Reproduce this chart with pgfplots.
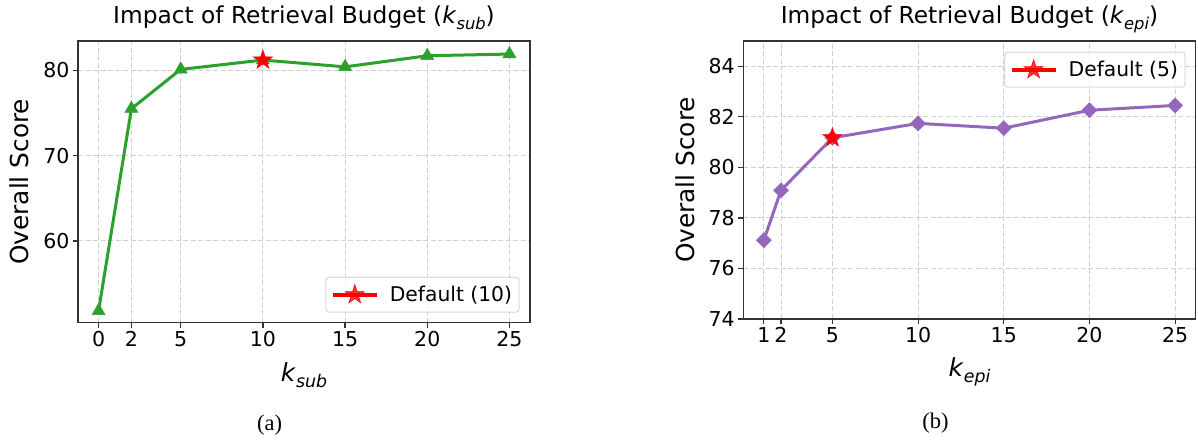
\documentclass[border=0pt]{standalone}
\usepackage{pgfplots}
\pgfplotsset{compat=1.18}
\usepackage{graphicx}
\usepackage{fontspec}
\setmainfont{DejaVu Sans}
\newfontfamily\capfont{Liberation Serif}
\definecolor{mgreen}{HTML}{2CA02C}
\definecolor{mpurple}{HTML}{9467BD}
\definecolor{framec}{HTML}{333333}
\definecolor{gridc}{HTML}{D0D0D0}
\definecolor{legc}{HTML}{D8D8D8}
\pgfdeclareplotmark{fstar}{%
 \pgfpathmoveto{\pgfpointpolar{90}{\pgfplotmarksize}}%
 \pgfpathlineto{\pgfpointpolar{126}{0.382\pgfplotmarksize}}%
 \pgfpathlineto{\pgfpointpolar{162}{\pgfplotmarksize}}%
 \pgfpathlineto{\pgfpointpolar{198}{0.382\pgfplotmarksize}}%
 \pgfpathlineto{\pgfpointpolar{234}{\pgfplotmarksize}}%
 \pgfpathlineto{\pgfpointpolar{270}{0.382\pgfplotmarksize}}%
 \pgfpathlineto{\pgfpointpolar{306}{\pgfplotmarksize}}%
 \pgfpathlineto{\pgfpointpolar{342}{0.382\pgfplotmarksize}}%
 \pgfpathlineto{\pgfpointpolar{18}{\pgfplotmarksize}}%
 \pgfpathlineto{\pgfpointpolar{54}{0.382\pgfplotmarksize}}%
 \pgfpathclose
 \pgfusepathqfillstroke}
\newcommand\kk[1]{\textit{k}\raisebox{-0.22em}{\scalebox{0.7}{\textit{#1}}}}
\pgfplotsset{mystyle/.style={
  scale only axis,
  axis line style={draw=framec, line width=1.2pt},
  tick align=outside,
  xtick pos=bottom, ytick pos=left,
  major tick length=5pt,
  every tick/.style={draw=framec, line width=1.2pt},
  grid=major,
  major grid style={draw=gridc, dash pattern=on 5pt off 2.5pt, line width=0.9pt},
  ticklabel style={font=\fontsize{20.5}{24}\selectfont},
  /pgf/number format/assume math mode=true,
  title style={font=\fontsize{23.3}{28}\selectfont, at={(axis description cs:0.5,1)}, anchor=base, yshift=11pt},
  label style={font=\fontsize{24.8}{30}\selectfont},
  legend cell align=left,
  legend image code/.code={\draw[mark repeat=2,mark phase=2,##1] plot coordinates {(0pt,0pt) (22pt,0pt) (44pt,0pt)};},
}}
\begin{document}
\begin{tikzpicture}
\path[use as bounding box] (0pt,0pt) rectangle (1198pt,441pt);
\begin{axis}[mystyle,
  at={(78pt,118.3pt)}, anchor=south west,
  width=452pt, height=281.7pt,
  xmin=-1.25, xmax=26.25, ymin=50.42, ymax=83.43,
  xtick={0,2,5,10,15,20,25}, ytick={60,70,80},
  title={Impact of Retrieval Budget (\kk{sub})},
  xlabel={\kk{sub}},
  ylabel={Overall Score},
  xlabel style={at={(axis description cs:0.5,0)}, anchor=base, yshift=-59.3pt},
  ylabel style={at={(axis description cs:-0.1093,0.5)}, anchor=base},
  legend style={at={(axis description cs:1,0)}, anchor=south east, xshift=-10.4pt, yshift=10pt,
    draw=legc, line width=1pt, rounded corners=3pt, fill=white, fill opacity=0.8, text opacity=1,
    font=\fontsize{20.3}{24}\selectfont, inner xsep=5pt, inner ysep=7pt, column sep=9pt},
]
\addplot[mgreen, line width=3pt, mark=triangle*, mark size=7.5pt,
  mark options={fill=mgreen, draw=mgreen, line width=0.5pt}, forget plot]
  coordinates {(0,51.8) (2,75.5) (5,80.1) (10,81.2) (15,80.4) (20,81.7) (25,81.9)};
\addplot[red, line width=4pt, mark=fstar, mark size=10pt,
  mark options={solid, fill=red, draw=red, line width=0.6pt}]
  coordinates {(10,81.2)};
\addlegendentry{Default (10)}
\end{axis}
\begin{axis}[mystyle,
  at={(743.3pt,122pt)}, anchor=south west,
  width=452.4pt, height=278pt,
  xmin=-0.2, xmax=26.2, ymin=74, ymax=85,
  xtick={1,2,5,10,15,20,25}, ytick={74,76,78,80,82,84},
  title={Impact of Retrieval Budget (\kk{epi})},
  xlabel={\kk{epi}},
  ylabel={Overall Score},
  xlabel style={at={(axis description cs:0.5,0)}, anchor=base, yshift=-58pt},
  ylabel style={at={(axis description cs:-0.1068,0.5)}, anchor=base},
  legend style={at={(axis description cs:1,1)}, anchor=north east, xshift=-10.2pt, yshift=-10.7pt,
    draw=legc, line width=1pt, rounded corners=3pt, fill=white, fill opacity=0.8, text opacity=1,
    font=\fontsize{20.3}{24}\selectfont, inner xsep=5pt, inner ysep=7pt, column sep=9pt},
]
\addplot[mpurple, line width=3pt, mark=square*, mark size=5.3pt,
  mark options={rotate=45, fill=mpurple, draw=mpurple, line width=0.5pt}, forget plot]
  coordinates {(1,77.12) (2,79.09) (5,81.17) (10,81.74) (15,81.55) (20,82.26) (25,82.45)};
\addplot[red, line width=4pt, mark=fstar, mark size=10pt,
  mark options={solid, fill=red, draw=red, line width=0.6pt}]
  coordinates {(5,81.17)};
\addlegendentry{Default (5)}
\end{axis}
\node[anchor=base, font=\capfont\fontsize{22.5}{26}\selectfont] at (269.6pt,10pt) {(a)};
\node[anchor=base, font=\capfont\fontsize{22.5}{26}\selectfont] at (935.6pt,12pt) {(b)};
\end{tikzpicture}
\end{document}
